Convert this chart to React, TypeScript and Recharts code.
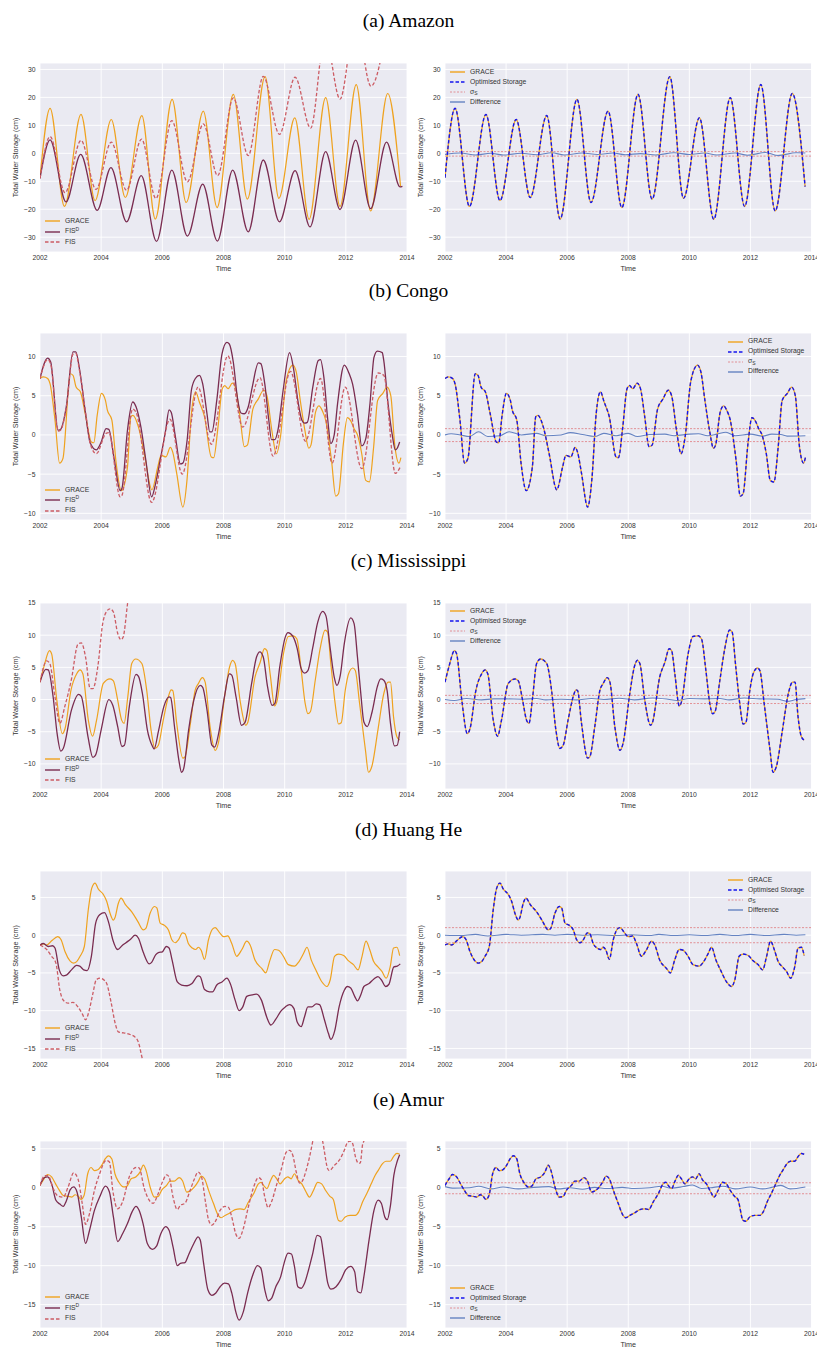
import React from "react";
import { LineChart, Line, XAxis, YAxis, CartesianGrid, ReferenceLine } from "recharts";

type Pt = [number, number];

const FONT = "'Liberation Sans', Arial, sans-serif";
const YEARS = [2002, 2004, 2006, 2008, 2010, 2012, 2014];

// (a) Amazon
const amazonTicks = [-30, -20, -10, 0, 10, 20, 30];
const amazonGrace: Pt[] = [
  [2002.0, -8.7], [2002.33, 16.1], [2002.8, -19.0], [2003.34, 13.9], [2003.8, -16.9], [2004.33, 12.1],
  [2004.79, -15.8], [2005.33, 13.5], [2005.77, -23.5], [2006.32, 19.3], [2006.78, -17.6], [2007.34, 15.1],
  [2007.79, -19.4], [2008.32, 21.1], [2008.78, -16.4], [2009.36, 27.4], [2009.81, -16.1], [2010.33, 12.7],
  [2010.8, -23.6], [2011.34, 19.9], [2011.81, -19.0], [2012.34, 24.6], [2012.81, -20.6], [2013.37, 21.4],
  [2013.79, -11.9],
];
const amazonFisD: Pt[] = [
  [2002.0, -9.0], [2002.33, 4.8], [2002.85, -17.4], [2003.33, -0.4], [2003.87, -20.4], [2004.32, -5.1],
  [2004.83, -24.5], [2005.31, -8.0], [2005.81, -31.5], [2006.31, -6.0], [2006.82, -29.6], [2007.32, -11.0],
  [2007.8, -31.4], [2008.3, -6.0], [2008.81, -28.1], [2009.3, -2.4], [2009.83, -24.5], [2010.34, -6.2],
  [2010.83, -26.3], [2011.34, 0.6], [2011.81, -20.1], [2012.32, 4.7], [2012.81, -19.8], [2013.33, 4.0],
  [2013.77, -12.0], [2013.85, -11.8],
];
const amazonFis: Pt[] = [
  [2002.0, -9.0], [2002.33, 6.0], [2002.82, -14.1], [2003.34, 4.6], [2003.83, -12.9], [2004.33, 4.0],
  [2004.83, -13.2], [2005.32, 5.1], [2005.79, -16.2], [2006.31, 11.7], [2006.82, -10.2], [2007.34, 10.5],
  [2007.81, -8.0], [2008.32, 19.8], [2008.81, -0.8], [2009.3, 27.5], [2009.83, 6.8], [2010.34, 27.2],
  [2010.85, 9.0], [2011.32, 42], [2011.81, 19.4], [2012.32, 48], [2012.82, 24.0], [2013.35, 46],
];
const amazonDiff: Pt[] = [
  [2002.0, -0.4], [2002.5, 0.1], [2003.0, -0.6], [2003.5, 0.0], [2003.9, -0.6], [2004.5, 0.0], [2005.0, -0.5],
  [2005.5, 0.2], [2005.9, -0.6], [2006.5, 0.1], [2007.0, -0.4], [2007.5, 0.1], [2007.9, -0.5], [2008.4, -0.1],
  [2008.9, -0.6], [2009.5, 0.2], [2010.0, -0.4], [2010.5, 0.1], [2010.9, -0.6], [2011.5, 0.1], [2011.9, -0.7],
  [2012.5, 0.3], [2012.9, -0.8], [2013.5, 0.2], [2013.8, 0.1],
];
const amazonSigma = [0.6, -1.0];

// (b) Congo
const congoTicks = [-10, -5, 0, 5, 10];
const congoGrace: Pt[] = [
  [2002.0, 7.2], [2002.11, 7.4], [2002.25, 7.2], [2002.33, 6.5], [2002.49, 1.9], [2002.64, -3.6], [2002.75, -3.0],
  [2002.99, 7.8], [2003.08, 7.6], [2003.18, 6.1], [2003.32, 5.5], [2003.48, 2.7], [2003.68, -0.9], [2003.76, -1.0],
  [2003.87, 2.5], [2004.01, 5.3], [2004.14, 4.4], [2004.2, 3.2], [2004.35, 1.9], [2004.49, -3.6], [2004.66, -7.1],
  [2004.86, -4.1], [2004.97, 2.3], [2005.04, 2.5], [2005.22, 1.0], [2005.41, -2.4], [2005.66, -7.0], [2005.85, -4.1],
  [2005.96, -2.6], [2006.12, -2.8], [2006.26, -1.6], [2006.34, -2.2], [2006.47, -4.9], [2006.67, -9.2], [2006.81, -5.6],
  [2006.95, 2.7], [2007.09, 5.5], [2007.21, 4.2], [2007.38, 2.3], [2007.6, -2.8], [2007.68, -2.9], [2007.82, 1.0],
  [2007.96, 5.9], [2008.04, 6.3], [2008.15, 5.9], [2008.29, 6.6], [2008.4, 5.9], [2008.54, 2.3], [2008.68, -1.5],
  [2008.78, -1.3], [2008.96, 3.3], [2009.14, 4.6], [2009.31, 5.7], [2009.42, 5.0], [2009.58, 0.6], [2009.73, -2.4],
  [2009.86, -0.3], [2010.05, 6.9], [2010.27, 8.9], [2010.38, 8.0], [2010.51, 4.4], [2010.66, 0.6], [2010.79, -1.7],
  [2010.86, -1.3], [2011.01, 2.9], [2011.12, 3.7], [2011.23, 3.1], [2011.34, 1.9], [2011.53, -3.2], [2011.67, -7.8],
  [2011.76, -7.5], [2011.92, -1.1], [2012.05, 2.2], [2012.16, 1.8], [2012.27, 0.8], [2012.38, 0.0], [2012.52, -2.4],
  [2012.65, -5.8], [2012.77, -6.0], [2012.91, -1.5], [2013.04, 4.4], [2013.21, 5.3], [2013.35, 6.1], [2013.47, 5.0],
  [2013.6, -1.3], [2013.74, -3.6], [2013.8, -2.9],
];
const congoFisD: Pt[] = [
  [2002.0, 7.2], [2002.25, 9.8], [2002.35, 9.3], [2002.59, 0.6], [2002.67, 0.7], [2002.86, 3.6], [2003.08, 10.6],
  [2003.17, 10.6], [2003.3, 8.2], [2003.49, 2.7], [2003.64, -1.0], [2003.84, -1.9], [2004.0, -0.9], [2004.16, 0.8],
  [2004.25, 0.7], [2004.43, -3.2], [2004.62, -7.1], [2004.68, -6.8], [2004.86, 0.6], [2005.03, 4.2], [2005.14, 3.6],
  [2005.3, 1.0], [2005.46, -3.2], [2005.65, -7.9], [2005.78, -6.2], [2005.95, -2.8], [2006.11, 0.6], [2006.22, 3.2],
  [2006.29, 2.9], [2006.43, -0.3], [2006.59, -3.7], [2006.67, -3.6], [2006.81, -0.7], [2006.95, 5.7], [2007.08, 7.2],
  [2007.21, 7.6], [2007.32, 6.5], [2007.46, 2.7], [2007.55, 0.4], [2007.62, 0.4], [2007.78, 4.4], [2007.95, 10.3],
  [2008.11, 11.8], [2008.19, 11.6], [2008.32, 9.3], [2008.46, 4.6], [2008.57, 2.8], [2008.68, 2.7], [2008.81, 3.6],
  [2008.94, 6.1], [2009.14, 9.2], [2009.22, 9.1], [2009.35, 6.5], [2009.48, 1.9], [2009.57, -0.6], [2009.68, -0.6],
  [2009.78, 0.6], [2009.95, 5.7], [2010.16, 10.5], [2010.3, 8.2], [2010.43, 4.4], [2010.56, 1.9], [2010.65, 1.5],
  [2010.74, 1.6], [2010.92, 6.1], [2011.1, 9.5], [2011.17, 9.6], [2011.28, 7.4], [2011.41, 1.9], [2011.51, -1.1],
  [2011.62, 0.0], [2011.73, 4.0], [2011.95, 8.9], [2012.11, 7.8], [2012.22, 6.5], [2012.38, 2.7], [2012.52, -1.4],
  [2012.65, -0.5], [2012.79, 4.0], [2012.92, 9.9], [2013.03, 10.7], [2013.19, 10.5], [2013.24, 9.5], [2013.38, 4.0],
  [2013.51, 0.2], [2013.62, -1.9], [2013.68, -1.7], [2013.76, -0.9],
];
const congoFis: Pt[] = [
  [2002.0, 7.2], [2002.25, 9.6], [2002.35, 9.0], [2002.6, 0.5], [2002.67, 0.6], [2002.86, 3.5], [2003.08, 10.3],
  [2003.17, 10.4], [2003.3, 8.0], [2003.5, 2.6], [2003.65, -1.2], [2003.84, -2.4], [2004.16, 0.2], [2004.25, 0.3],
  [2004.62, -7.9], [2004.68, -7.7], [2005.03, 3.3], [2005.14, 2.9], [2005.65, -8.6], [2006.25, 2.0], [2006.65, -5.0],
  [2007.17, 6.1], [2007.6, -1.2], [2008.14, 10.1], [2008.63, 1.0], [2009.19, 7.3], [2009.62, -2.7], [2010.19, 8.1],
  [2010.68, -0.8], [2011.17, 7.2], [2011.55, -3.6], [2011.98, 6.1], [2012.52, -4.3], [2013.06, 7.9], [2013.24, 7.6],
  [2013.62, -4.9], [2013.78, -4.1],
];
const congoDiff: Pt[] = [
  [2002.0, 0.0], [2002.2, 0.15], [2002.5, 0.0], [2002.8, -0.2], [2003.1, 0.4], [2003.4, -0.2], [2003.8, -0.1],
  [2004.1, 0.4], [2004.5, 0.0], [2005.0, 0.2], [2005.3, -0.1], [2005.8, 0.0], [2006.1, 0.3], [2006.5, 0.05],
  [2006.9, -0.2], [2007.2, 0.2], [2007.6, -0.1], [2008.0, 0.2], [2008.3, -0.2], [2008.7, 0.05], [2009.2, 0.1],
  [2009.5, -0.1], [2010.0, 0.1], [2010.3, 0.15], [2010.6, -0.1], [2010.9, 0.1], [2011.2, 0.35], [2011.5, -0.1],
  [2012.0, 0.1], [2012.4, -0.15], [2012.7, 0.1], [2013.0, 0.05], [2013.2, -0.15], [2013.8, -0.1],
];
const congoSigma = [0.8, -0.85];

// (c) Mississippi
const missTicks = [-10, -5, 0, 5, 10, 15];
const missGrace: Pt[] = [
  [2002.0, 2.7], [2002.14, 5.3], [2002.31, 7.6], [2002.38, 7.1], [2002.55, -0.1], [2002.73, -5.3], [2002.82, -4.5],
  [2003.01, 1.4], [2003.2, 4.0], [2003.31, 4.6], [2003.4, 4.0], [2003.58, -3.2], [2003.72, -5.7], [2003.85, -3.2],
  [2004.07, 2.5], [2004.29, 3.2], [2004.4, 2.9], [2004.54, -0.1], [2004.67, -3.2], [2004.75, -3.7], [2004.87, 0.4],
  [2005.0, 5.6], [2005.13, 6.3], [2005.33, 5.6], [2005.49, 1.4], [2005.63, -4.7], [2005.76, -7.6], [2005.87, -7.1],
  [2006.03, -3.2], [2006.2, 0.5], [2006.29, 1.5], [2006.34, 1.4], [2006.47, -3.7], [2006.67, -9.1], [2006.74, -8.9],
  [2006.91, -4.0], [2007.07, 1.4], [2007.18, 2.5], [2007.31, 3.4], [2007.4, 2.7], [2007.56, -4.2], [2007.73, -7.9],
  [2007.83, -6.8], [2008.05, 0.9], [2008.2, 5.1], [2008.3, 6.1], [2008.38, 5.6], [2008.54, -0.1], [2008.73, -4.0],
  [2008.79, -3.6], [2009.03, 3.5], [2009.2, 5.8], [2009.34, 7.9], [2009.42, 7.6], [2009.53, 3.8], [2009.67, -1.0],
  [2009.74, -0.4], [2009.96, 7.1], [2010.12, 9.8], [2010.29, 9.9], [2010.4, 9.4], [2010.54, 4.6], [2010.67, -0.6],
  [2010.76, -2.2], [2010.84, -1.9], [2011.0, 3.0], [2011.16, 7.9], [2011.32, 10.8], [2011.4, 10.5], [2011.52, 5.1],
  [2011.65, -0.6], [2011.76, -3.8], [2011.85, -3.6], [2011.98, 1.4], [2012.09, 4.0], [2012.23, 4.9], [2012.31, 4.5],
  [2012.45, -0.6], [2012.64, -7.8], [2012.74, -11.3], [2012.85, -10.4], [2013.05, -4.7], [2013.24, 0.9], [2013.38, 2.7],
  [2013.46, 2.7], [2013.56, -2.7], [2013.67, -5.8], [2013.76, -6.3],
];
const missFisD: Pt[] = [
  [2002.0, 2.7], [2002.19, 4.7], [2002.27, 4.6], [2002.43, 0.4], [2002.56, -5.3], [2002.68, -8.0], [2002.76, -7.6],
  [2003.03, -1.6], [2003.26, 0.8], [2003.35, 0.5], [2003.57, -5.8], [2003.73, -9.0], [2003.82, -8.6], [2004.0, -4.7],
  [2004.25, 0.0], [2004.38, -0.9], [2004.54, -4.2], [2004.68, -7.3], [2004.76, -7.1], [2004.92, -1.1], [2005.14, 3.9],
  [2005.22, 3.6], [2005.35, 0.9], [2005.51, -4.7], [2005.68, -7.3], [2005.73, -7.7], [2005.87, -5.0], [2006.05, -1.1],
  [2006.22, 0.4], [2006.27, 0.3], [2006.41, -4.7], [2006.54, -9.4], [2006.63, -11.3], [2006.7, -10.7], [2006.86, -4.7],
  [2007.03, -0.1], [2007.24, 2.2], [2007.32, 1.9], [2007.46, -1.6], [2007.62, -7.1], [2007.71, -7.4], [2007.84, -5.3],
  [2008.03, 0.4], [2008.19, 4.0], [2008.27, 3.8], [2008.41, 0.4], [2008.59, -4.0], [2008.7, -3.6], [2008.92, 2.5],
  [2009.08, 6.6], [2009.19, 7.4], [2009.3, 6.6], [2009.44, 2.0], [2009.59, -0.9], [2009.68, -0.6], [2009.84, 5.1],
  [2010.02, 9.7], [2010.11, 10.4], [2010.27, 9.8], [2010.41, 7.9], [2010.54, 4.8], [2010.65, 4.1], [2010.76, 4.5],
  [2010.92, 8.1], [2011.08, 12.0], [2011.24, 13.7], [2011.35, 13.0], [2011.49, 7.9], [2011.62, 3.5], [2011.71, 2.2],
  [2011.82, 3.8], [2011.95, 8.7], [2012.16, 12.7], [2012.27, 11.8], [2012.38, 6.6], [2012.49, 0.9], [2012.59, -3.5],
  [2012.7, -4.2], [2012.86, -1.9], [2013.03, 2.0], [2013.14, 3.2], [2013.24, 3.0], [2013.35, 1.4], [2013.46, -3.7],
  [2013.59, -7.2], [2013.68, -7.1], [2013.76, -5.0],
];
const missFis: Pt[] = [
  [2002.0, 2.7], [2002.22, 6.0], [2002.32, 5.6], [2002.49, 0.4], [2002.65, -3.7], [2002.81, -1.1], [2003.03, 3.2],
  [2003.24, 8.6], [2003.35, 8.8], [2003.49, 6.6], [2003.64, 1.7], [2003.73, 1.7], [2003.89, 5.1], [2004.05, 11.8],
  [2004.18, 13.7], [2004.29, 14.1], [2004.4, 13.6], [2004.54, 10.3], [2004.65, 9.3], [2004.72, 9.7], [2004.86, 14.8],
  [2005.0, 20.0],
];
const missDiff: Pt[] = [
  [2002.0, 0.0], [2002.3, -0.15], [2002.7, 0.15], [2003.2, -0.05], [2003.6, 0.1], [2004.0, 0.1], [2004.5, 0.05],
  [2005.0, 0.15], [2005.3, -0.05], [2005.8, 0.05], [2006.3, -0.05], [2006.8, 0.15], [2007.2, 0.0], [2007.7, 0.2],
  [2008.2, -0.05], [2008.8, 0.25], [2009.3, 0.05], [2009.6, -0.15], [2010.0, 0.15], [2010.5, 0.1], [2011.0, 0.15],
  [2011.3, -0.05], [2011.8, 0.25], [2012.3, 0.1], [2012.9, 0.05], [2013.2, -0.3], [2013.5, 0.0], [2013.8, 0.15],
];
const missSigma = [0.65, -0.62];

// (d) Huang He
const huangTicks = [-15, -10, -5, 0, 5];
const huangGrace: Pt[] = [
  [2002.0, -1.3], [2002.11, -1.15], [2002.22, -1.3], [2002.38, -0.75], [2002.58, -0.2], [2002.69, -0.6], [2002.82, -2.2],
  [2002.98, -3.4], [2003.09, -3.7], [2003.2, -3.5], [2003.31, -2.8], [2003.45, -1.5], [2003.58, 3.4], [2003.69, 6.2],
  [2003.8, 6.9], [2003.91, 6.1], [2004.07, 5.4], [2004.18, 4.5], [2004.29, 2.9], [2004.4, 2.0], [2004.45, 2.3],
  [2004.56, 4.2], [2004.65, 4.9], [2004.8, 4.0], [2005.0, 3.1], [2005.2, 1.8], [2005.38, 0.7], [2005.46, 0.9],
  [2005.6, 2.9], [2005.74, 3.8], [2005.82, 3.6], [2005.93, 1.6], [2006.07, 1.3], [2006.2, 0.7], [2006.31, -0.6],
  [2006.42, -1.0], [2006.53, -0.6], [2006.66, 0.3], [2006.74, 0.2], [2006.85, -1.1], [2006.98, -1.7], [2007.09, -1.9],
  [2007.18, -1.6], [2007.27, -2.0], [2007.38, -3.2], [2007.51, -0.6], [2007.64, 0.8], [2007.73, 1.0], [2007.87, 0.35],
  [2008.0, -0.2], [2008.14, -0.1], [2008.27, -1.1], [2008.43, -2.8], [2008.6, -1.9], [2008.76, -0.8], [2008.87, -1.3],
  [2009.03, -3.3], [2009.25, -4.4], [2009.38, -5.0], [2009.52, -3.3], [2009.67, -1.9], [2009.8, -2.0], [2009.96, -2.8],
  [2010.12, -3.9], [2010.32, -4.1], [2010.47, -3.5], [2010.62, -2.4], [2010.73, -1.6], [2010.87, -3.3], [2011.02, -4.6],
  [2011.22, -6.2], [2011.38, -6.8], [2011.49, -5.9], [2011.63, -2.8], [2011.76, -2.5], [2011.93, -2.7], [2012.09, -3.4],
  [2012.25, -3.9], [2012.4, -4.6], [2012.53, -2.8], [2012.66, -0.8], [2012.78, -1.9], [2012.91, -3.5], [2013.05, -4.2],
  [2013.18, -4.8], [2013.32, -5.7], [2013.45, -4.2], [2013.56, -1.7], [2013.67, -1.6], [2013.76, -2.7],
];
const huangFisD: Pt[] = [
  [2002.0, -1.3], [2002.11, -1.1], [2002.27, -1.5], [2002.41, -1.4], [2002.49, -1.7], [2002.63, -4.6], [2002.76, -5.4],
  [2002.86, -5.3], [2003.03, -4.6], [2003.19, -4.0], [2003.3, -4.1], [2003.43, -4.6], [2003.54, -4.7], [2003.68, -2.8],
  [2003.82, 1.6], [2003.95, 2.7], [2004.11, 3.0], [2004.25, 1.6], [2004.38, -0.6], [2004.54, -1.9], [2004.68, -1.4],
  [2004.81, -1.0], [2004.97, -0.5], [2005.11, 0.0], [2005.22, -0.4], [2005.37, -2.2], [2005.57, -3.8], [2005.65, -3.6],
  [2005.78, -2.6], [2005.87, -2.3], [2006.0, -2.2], [2006.13, -1.5], [2006.22, -1.7], [2006.32, -3.3], [2006.49, -6.2],
  [2006.63, -6.6], [2006.81, -6.7], [2006.97, -6.4], [2007.17, -5.4], [2007.24, -5.5], [2007.38, -7.2], [2007.54, -7.5],
  [2007.64, -7.5], [2007.78, -6.6], [2007.95, -6.2], [2008.11, -5.7], [2008.22, -6.4], [2008.38, -8.6], [2008.51, -10.0],
  [2008.63, -9.5], [2008.76, -8.1], [2008.94, -7.9], [2009.08, -7.8], [2009.24, -8.6], [2009.41, -10.8], [2009.55, -11.9],
  [2009.7, -11.2], [2009.87, -10.1], [2010.02, -9.5], [2010.16, -9.2], [2010.3, -9.7], [2010.41, -11.5], [2010.54, -12.1],
  [2010.65, -10.8], [2010.76, -9.5], [2010.89, -9.5], [2011.03, -9.1], [2011.14, -9.2], [2011.3, -11.2], [2011.43, -13.0],
  [2011.51, -13.8], [2011.64, -12.6], [2011.78, -9.5], [2011.95, -7.3], [2012.05, -6.8], [2012.16, -7.0], [2012.29, -8.1],
  [2012.38, -8.7], [2012.49, -7.9], [2012.59, -6.8], [2012.76, -6.4], [2012.92, -5.8], [2013.05, -5.5], [2013.16, -5.9],
  [2013.3, -6.8], [2013.41, -6.5], [2013.57, -4.2], [2013.68, -4.1], [2013.78, -3.8],
];
const huangFis: Pt[] = [
  [2002.0, -1.3], [2002.22, -1.9], [2002.38, -2.8], [2002.52, -3.7], [2002.65, -7.3], [2002.76, -8.6], [2002.92, -9.0],
  [2003.08, -8.9], [2003.24, -9.5], [2003.38, -10.4], [2003.49, -11.2], [2003.6, -10.1], [2003.73, -7.7], [2003.84, -5.9],
  [2003.97, -5.7], [2004.11, -6.0], [2004.18, -6.4], [2004.32, -8.8], [2004.46, -11.7], [2004.56, -12.8], [2004.65, -12.9],
  [2004.81, -13.0], [2004.97, -13.2], [2005.11, -13.5], [2005.22, -14.2], [2005.33, -16.1], [2005.5, -19.0],
];
const huangDiff: Pt[] = [
  [2002.0, 0.0], [2002.5, -0.05], [2003.0, 0.1], [2003.4, -0.1], [2004.0, 0.1], [2004.5, 0.0], [2005.2, 0.1],
  [2005.6, 0.0], [2006.0, 0.1], [2006.5, 0.0], [2007.0, 0.05], [2007.6, -0.05], [2008.1, 0.05], [2008.7, -0.05],
  [2009.0, 0.1], [2009.5, -0.05], [2010.0, 0.05], [2010.5, -0.05], [2011.0, 0.1], [2011.5, -0.05], [2012.0, 0.1],
  [2012.5, -0.05], [2013.1, 0.1], [2013.5, 0.0], [2013.8, 0.05],
];
const huangSigma = [1.0, -1.0];

// (e) Amur
const amurTicks = [-15, -10, -5, 0, 5];
const amurGrace: Pt[] = [
  [2002.0, 0.3], [2002.11, 1.0], [2002.25, 1.7], [2002.38, 1.4], [2002.51, 0.5], [2002.63, -0.3], [2002.76, -1.0],
  [2002.93, -1.1], [2003.04, -1.2], [2003.15, -0.9], [2003.25, -1.1], [2003.34, -1.5], [2003.44, -1.0], [2003.56, 1.8],
  [2003.67, 2.6], [2003.78, 2.2], [2003.89, 2.3], [2004.02, 2.9], [2004.13, 3.7], [2004.24, 4.1], [2004.35, 3.7],
  [2004.45, 1.8], [2004.58, 0.7], [2004.73, 0.1], [2004.84, 0.2], [2004.98, 1.15], [2005.14, 1.4], [2005.27, 2.0],
  [2005.38, 2.9], [2005.47, 2.2], [2005.6, 0.1], [2005.74, -1.2], [2005.87, -1.1], [2005.98, -0.3], [2006.14, 0.3],
  [2006.25, 0.85], [2006.39, 0.85], [2006.55, 1.3], [2006.66, 0.9], [2006.8, -0.55], [2006.91, -0.4], [2007.05, 0.1],
  [2007.18, 0.85], [2007.27, 1.5], [2007.38, 1.15], [2007.51, -0.3], [2007.67, -2.0], [2007.83, -3.55], [2007.92, -3.85],
  [2008.05, -3.55], [2008.22, -3.2], [2008.38, -2.8], [2008.54, -2.7], [2008.67, -2.8], [2008.82, -1.8], [2008.98, -0.8],
  [2009.14, 0.5], [2009.23, 0.7], [2009.31, 0.3], [2009.42, -0.1], [2009.53, 0.85], [2009.64, 1.6], [2009.74, 1.15],
  [2009.85, 0.5], [2010.0, 1.15], [2010.1, 1.4], [2010.21, 1.15], [2010.32, 1.8], [2010.43, 1.0], [2010.56, 0.5],
  [2010.7, -0.55], [2010.81, -1.2], [2010.94, -0.35], [2011.08, 0.7], [2011.21, 0.5], [2011.34, -0.35], [2011.48, -1.1],
  [2011.59, -1.5], [2011.76, -4.2], [2011.85, -4.3], [2011.98, -3.75], [2012.14, -3.55], [2012.31, -3.55], [2012.42, -3.1],
  [2012.55, -1.8], [2012.69, -0.7], [2012.83, 0.5], [2012.96, 1.6], [2013.07, 2.3], [2013.2, 3.1], [2013.31, 3.4],
  [2013.45, 3.4], [2013.56, 4.0], [2013.67, 4.4], [2013.76, 4.3],
];
const amurFisD: Pt[] = [
  [2002.0, 0.3], [2002.14, 1.3], [2002.25, 1.4], [2002.38, 0.5], [2002.52, -1.6], [2002.65, -2.1], [2002.76, -2.4],
  [2002.86, -1.7], [2002.99, -0.25], [2003.1, 0.1], [2003.21, -0.55], [2003.35, -3.75], [2003.49, -7.15], [2003.62, -5.45],
  [2003.78, -2.9], [2003.95, -1.2], [2004.14, 0.2], [2004.27, -0.55], [2004.4, -3.75], [2004.54, -6.9], [2004.7, -5.9],
  [2004.86, -4.6], [2005.01, -3.1], [2005.14, -2.4], [2005.24, -2.9], [2005.37, -4.6], [2005.51, -7.15], [2005.68, -7.9],
  [2005.81, -7.5], [2005.95, -5.9], [2006.11, -5.0], [2006.22, -5.45], [2006.35, -7.6], [2006.49, -10.0], [2006.59, -9.7],
  [2006.74, -9.6], [2006.86, -8.6], [2007.03, -7.15], [2007.17, -6.3], [2007.24, -6.7], [2007.35, -9.7], [2007.49, -13.1],
  [2007.62, -13.8], [2007.75, -13.5], [2007.89, -12.7], [2008.03, -12.25], [2008.16, -12.35], [2008.27, -13.5],
  [2008.4, -15.9], [2008.51, -17.0], [2008.65, -15.9], [2008.79, -13.5], [2008.94, -11.4], [2009.11, -10.0],
  [2009.22, -10.3], [2009.35, -13.1], [2009.46, -14.5], [2009.57, -14.2], [2009.71, -12.7], [2009.87, -11.4],
  [2009.98, -9.7], [2010.11, -8.4], [2010.22, -8.5], [2010.32, -10.1], [2010.43, -12.7], [2010.54, -12.9],
  [2010.65, -12.25], [2010.78, -10.55], [2010.92, -8.4], [2011.06, -6.1], [2011.17, -6.3], [2011.28, -8.85],
  [2011.41, -12.25], [2011.51, -13.0], [2011.68, -12.7], [2011.84, -11.8], [2012.0, -10.5], [2012.16, -10.1],
  [2012.29, -10.8], [2012.38, -13.3], [2012.49, -13.5], [2012.59, -11.4], [2012.76, -6.7], [2012.92, -2.9],
  [2013.06, -1.6], [2013.16, -2.0], [2013.28, -3.8], [2013.35, -4.1], [2013.46, -2.25], [2013.57, 1.6], [2013.68, 3.4],
  [2013.76, 4.25],
];
const amurFis: Pt[] = [
  [2002.0, 0.3], [2002.16, 1.55], [2002.27, 1.55], [2002.43, -0.1], [2002.6, -1.1], [2002.76, -1.2], [2002.92, 0.1],
  [2003.1, 1.9], [2003.24, 1.15], [2003.38, -2.0], [2003.49, -4.7], [2003.62, -3.3], [2003.78, -0.35], [2003.95, 1.8],
  [2004.16, 3.5], [2004.27, 3.3], [2004.38, -0.35], [2004.54, -2.7], [2004.7, -1.8], [2004.92, 1.4], [2005.14, 2.6],
  [2005.24, 2.55], [2005.41, -0.1], [2005.57, -1.6], [2005.7, -2.0], [2005.84, -1.0], [2006.0, 0.7], [2006.14, 1.65],
  [2006.22, 1.4], [2006.35, -1.2], [2006.49, -2.8], [2006.59, -2.25], [2006.74, -2.0], [2006.89, -0.55], [2007.03, 0.95],
  [2007.17, 2.0], [2007.28, 1.4], [2007.41, -1.8], [2007.51, -4.1], [2007.62, -4.8], [2007.75, -4.2], [2007.89, -2.9],
  [2008.05, -2.4], [2008.16, -2.5], [2008.27, -3.75], [2008.4, -5.9], [2008.51, -6.5], [2008.65, -5.2], [2008.81, -2.5],
  [2008.97, -0.1], [2009.14, 1.3], [2009.24, 1.0], [2009.35, -1.2], [2009.46, -2.55], [2009.57, -1.8], [2009.73, 0.3],
  [2009.89, 2.4], [2010.05, 4.55], [2010.16, 4.8], [2010.27, 4.1], [2010.38, 2.0], [2010.49, 0.6], [2010.59, 0.95],
  [2010.7, 2.2], [2010.81, 3.9], [2010.92, 6.0], [2011.05, 8.5], [2011.24, 6.0], [2011.41, 2.4], [2011.46, 2.2],
  [2011.62, 2.85], [2011.78, 3.5], [2011.95, 4.8], [2012.05, 5.8], [2012.14, 6.0], [2012.22, 5.7], [2012.32, 3.9],
  [2012.41, 3.15], [2012.47, 3.15], [2012.55, 5.6], [2012.59, 6.0], [2012.7, 9.0],
];
const amurDiff: Pt[] = [
  [2002.0, 0.15], [2002.3, -0.05], [2002.8, 0.0], [2003.1, 0.2], [2003.5, -0.15], [2003.9, 0.1], [2004.4, -0.15],
  [2004.9, 0.05], [2005.4, 0.15], [2005.7, -0.15], [2006.1, 0.0], [2006.5, -0.2], [2006.9, 0.05], [2007.3, -0.1],
  [2007.8, 0.05], [2008.2, -0.1], [2008.7, 0.0], [2009.1, 0.2], [2009.4, -0.05], [2009.8, 0.15], [2010.1, 0.35],
  [2010.4, -0.1], [2010.8, 0.05], [2011.1, 0.2], [2011.5, -0.15], [2012.0, 0.1], [2012.4, -0.15], [2012.7, 0.05],
  [2013.0, 0.3], [2013.3, -0.15], [2013.8, 0.1],
];
const amurSigma = [0.64, -0.77];

const C = {
  bg: "#EAEAF2",
  grace: "#EFA21E",
  fisD: "#7A2C50",
  fis: "#CC5C64",
  opt: "#1414EE",
  sigma: "#E0787E",
  diff: "#6583C2",
  text: "#333",
};

const rows = (pts: Pt[]) => pts.map(([t, v]) => ({ t, v }));
const fmt = (v: number) => (v < 0 ? "\u2212" + Math.abs(v) : String(v));

const panels = [
  {
    title: "(a) Amazon", base: 27.5, top: 63, h: 189, domain: [-35.3, 32.3], ticks: amazonTicks,
    grace: amazonGrace, fisD: amazonFisD, fis: amazonFis, diff: amazonDiff, sigma: amazonSigma,
    keyL: { x: 45, y: 221, pitch: 10.5 }, keyR: { x: 450, y: 72.3, pitch: 10 },
  },
  {
    title: "(b) Congo", base: 297, top: 333, h: 187, domain: [-10.85, 13], ticks: congoTicks,
    grace: congoGrace, fisD: congoFisD, fis: congoFis, diff: congoDiff, sigma: congoSigma,
    keyL: { x: 45, y: 490, pitch: 10.4 }, keyR: { x: 728, y: 341.7, pitch: 10 },
  },
  {
    title: "(c) Mississippi", base: 567, top: 603, h: 186, domain: [-13.9, 15], ticks: missTicks,
    grace: missGrace, fisD: missFisD, fis: missFis, diff: missDiff, sigma: missSigma,
    keyL: { x: 45, y: 759, pitch: 10.5 }, keyR: { x: 450, y: 611, pitch: 10 },
  },
  {
    title: "(d) Huang He", base: 836, top: 871, h: 188, domain: [-16.4, 8.5], ticks: huangTicks,
    grace: huangGrace, fisD: huangFisD, fis: huangFis, diff: huangDiff, sigma: huangSigma,
    keyL: { x: 45, y: 1028.3, pitch: 10.5 }, keyR: { x: 728, y: 880, pitch: 10 },
  },
  {
    title: "(e) Amur", base: 1106, top: 1141, h: 187, domain: [-18, 6], ticks: amurTicks,
    grace: amurGrace, fisD: amurFisD, fis: amurFis, diff: amurDiff, sigma: amurSigma,
    keyL: { x: 45, y: 1297.3, pitch: 10.7 }, keyR: { x: 450, y: 1288.3, pitch: 10 },
  },
];

function YLabel(props: any) {
  const vb = props.viewBox;
  const cx = vb.x + vb.width - 25;
  const cy = vb.y + vb.height / 2;
  return (
    <text x={cx} y={cy} transform={`rotate(-90 ${cx} ${cy})`} textAnchor="middle" dominantBaseline="central"
      fontSize={7.2} fill={C.text} fontFamily={FONT}>
      Total Water Storage (cm)
    </text>
  );
}

function XLabel(props: any) {
  const vb = props.viewBox;
  return (
    <text x={vb.x + vb.width / 2} y={vb.y + 16} textAnchor="middle" dominantBaseline="central"
      fontSize={7.2} fill={C.text} fontFamily={FONT}>
      Time
    </text>
  );
}

function Frame({ left, width, axisW, plotRight, top, h, domain, ticks, children }: any) {
  return (
    <div style={{ position: "absolute", left, top: top - 5 }}>
      <LineChart width={width} height={h + 29} margin={{ top: 5, right: width - plotRight, bottom: 0, left: 0 }}>
        <CartesianGrid fill={C.bg} stroke="#fff" strokeWidth={0.9} />
        <XAxis type="number" dataKey="t" domain={[2002, 2014]} ticks={YEARS} interval={0} allowDataOverflow
          axisLine={false} tickLine={false} tickSize={2} tickMargin={1} height={24}
          tick={{ fontSize: 6.8, fill: C.text, fontFamily: FONT }} label={XLabel} />
        <YAxis type="number" domain={domain} ticks={ticks} interval={0} allowDataOverflow
          axisLine={false} tickLine={false} width={axisW} tickSize={2} tickMargin={2.5} tickFormatter={fmt}
          tick={{ fontSize: 6.8, fill: C.text, fontFamily: FONT }} label={YLabel} />
        {children}
      </LineChart>
    </div>
  );
}

function Key({ x, y, pitch, items }: any) {
  return (
    <div style={{ position: "absolute", left: x, top: y - pitch / 2, fontFamily: FONT, fontSize: 6.8, color: C.text }}>
      {items.map((it: any, i: number) => (
        <div key={i} style={{ display: "flex", alignItems: "center", height: pitch, whiteSpace: "nowrap" }}>
          <svg width={15} height={6} style={{ display: "block" }}>
            <line x1={0} x2={15} y1={3} y2={3} stroke={it.color} strokeWidth={it.w} strokeDasharray={it.dash} />
          </svg>
          <span style={{ marginLeft: 5, lineHeight: 1 }}>{it.label}</span>
        </div>
      ))}
    </div>
  );
}

const sup = { fontSize: 5, position: "relative" as const, top: -2.5 };
const sub = { fontSize: 5, position: "relative" as const, top: 1.5 };

const leftItems = [
  { label: "GRACE", color: C.grace, w: 1.4 },
  { label: <>FIS<span style={sup}>D</span></>, color: C.fisD, w: 1.4 },
  { label: "FIS", color: C.fis, w: 1.4, dash: "3.5 2" },
];
const rightItems = [
  { label: "GRACE", color: C.grace, w: 1.4 },
  { label: "Optimised Storage", color: C.opt, w: 1.5, dash: "3.5 2" },
  { label: <>σ<span style={sub}>S</span></>, color: C.sigma, w: 0.8, dash: "2 1.5" },
  { label: "Difference", color: C.diff, w: 1.4 },
];

export default function App() {
  return (
    <div style={{ position: "absolute", left: 0, top: 0, width: 817, height: 1348, overflow: "hidden", background: "#fff" }}>
      {panels.map((p) => (
        <React.Fragment key={p.title}>
          <div style={{ position: "absolute", left: 0, width: 817, top: p.base - 16.3, textAlign: "center",
            fontFamily: "'Liberation Serif', 'Times New Roman', serif", fontSize: 19.5, lineHeight: 1, color: "#000" }}>
            {p.title}
          </div>
          <Frame left={0} width={420} axisW={40} plotRight={407} top={p.top} h={p.h} domain={p.domain} ticks={p.ticks}>
            <Line data={rows(p.grace)} dataKey="v" type="monotone" stroke={C.grace} strokeWidth={1.2} dot={false} isAnimationActive={false} />
            <Line data={rows(p.fisD)} dataKey="v" type="monotone" stroke={C.fisD} strokeWidth={1.3} dot={false} isAnimationActive={false} />
            <Line data={rows(p.fis)} dataKey="v" type="monotone" stroke={C.fis} strokeWidth={1.3} strokeDasharray="3.5 2" dot={false} isAnimationActive={false} />
          </Frame>
          <Frame left={410} width={407} axisW={35} plotRight={401.5} top={p.top} h={p.h} domain={p.domain} ticks={p.ticks}>
            <ReferenceLine y={p.sigma[0]} stroke={C.sigma} strokeWidth={0.8} strokeDasharray="2 1.5" />
            <ReferenceLine y={p.sigma[1]} stroke={C.sigma} strokeWidth={0.8} strokeDasharray="2 1.5" />
            <Line data={rows(p.diff)} dataKey="v" type="monotone" stroke={C.diff} strokeWidth={1.1} dot={false} isAnimationActive={false} />
            <Line data={rows(p.grace)} dataKey="v" type="monotone" stroke={C.grace} strokeWidth={1.3} dot={false} isAnimationActive={false} />
            {/* optimised storage sits on top of GRACE in the figure */}
            <Line data={rows(p.grace)} dataKey="v" type="monotone" stroke={C.opt} strokeWidth={1.4} strokeDasharray="3.5 2.2" dot={false} isAnimationActive={false} />
          </Frame>
          <Key {...p.keyL} items={leftItems} />
          <Key {...p.keyR} items={rightItems} />
        </React.Fragment>
      ))}
    </div>
  );
}
